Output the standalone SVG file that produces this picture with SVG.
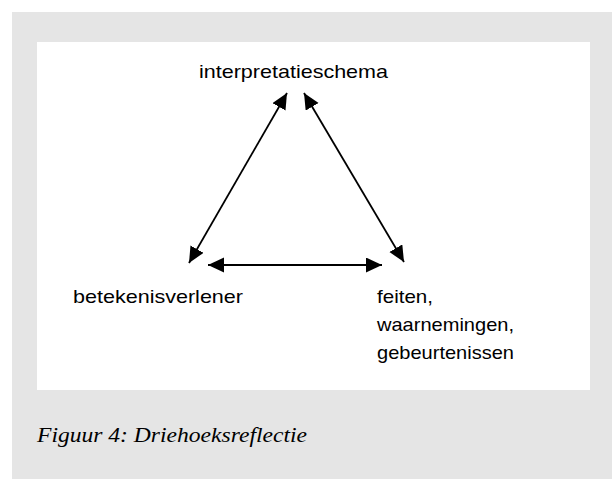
<svg xmlns="http://www.w3.org/2000/svg" width="612" height="479" viewBox="0 0 612 479">
  <style>
    .lbl { font-family: "Liberation Sans", "DejaVu Sans", sans-serif; font-size: 19px; fill: #000; }
    .cap { font-family: "Liberation Serif", "DejaVu Serif", serif; font-style: italic; font-size: 22px; fill: #000; }
    .conn { stroke: #000; stroke-width: 1.8; fill: none; marker-start: url(#ah); marker-end: url(#ah); }
  </style>
  <defs>
    <marker id="ah" markerUnits="userSpaceOnUse" markerWidth="18" markerHeight="16" refX="16" refY="7.5" orient="auto-start-reverse">
      <path d="M0,0 L16,7.5 L0,15 z" fill="#000"/>
    </marker>
  </defs>
  <rect x="12" y="12" width="600" height="467" fill="#e5e5e5"/>
  <rect x="37" y="42" width="553" height="348" fill="#ffffff"/>
  <g id="connectors">
    <line class="conn" x1="189" y1="263" x2="287" y2="93"/>
    <line class="conn" x1="304" y1="93" x2="404" y2="262"/>
    <line class="conn" x1="208" y1="265" x2="382" y2="265"/>
  </g>
  <g id="interpretatieschema">
    <text class="lbl" x="199" y="78" textLength="189" lengthAdjust="spacingAndGlyphs">interpretatieschema</text>
  </g>
  <g id="betekenisverlener">
    <text class="lbl" x="73" y="303" textLength="170" lengthAdjust="spacingAndGlyphs">betekenisverlener</text>
  </g>
  <g id="feiten">
    <text class="lbl" x="377" y="303" textLength="56" lengthAdjust="spacingAndGlyphs">feiten,</text>
    <text class="lbl" x="377" y="331" textLength="137" lengthAdjust="spacingAndGlyphs">waarnemingen,</text>
    <text class="lbl" x="377" y="359" textLength="137" lengthAdjust="spacingAndGlyphs">gebeurtenissen</text>
  </g>
  <g id="caption">
    <text class="cap" x="37" y="442" textLength="270" lengthAdjust="spacingAndGlyphs">Figuur 4: Driehoeksreflectie</text>
  </g>
</svg>
